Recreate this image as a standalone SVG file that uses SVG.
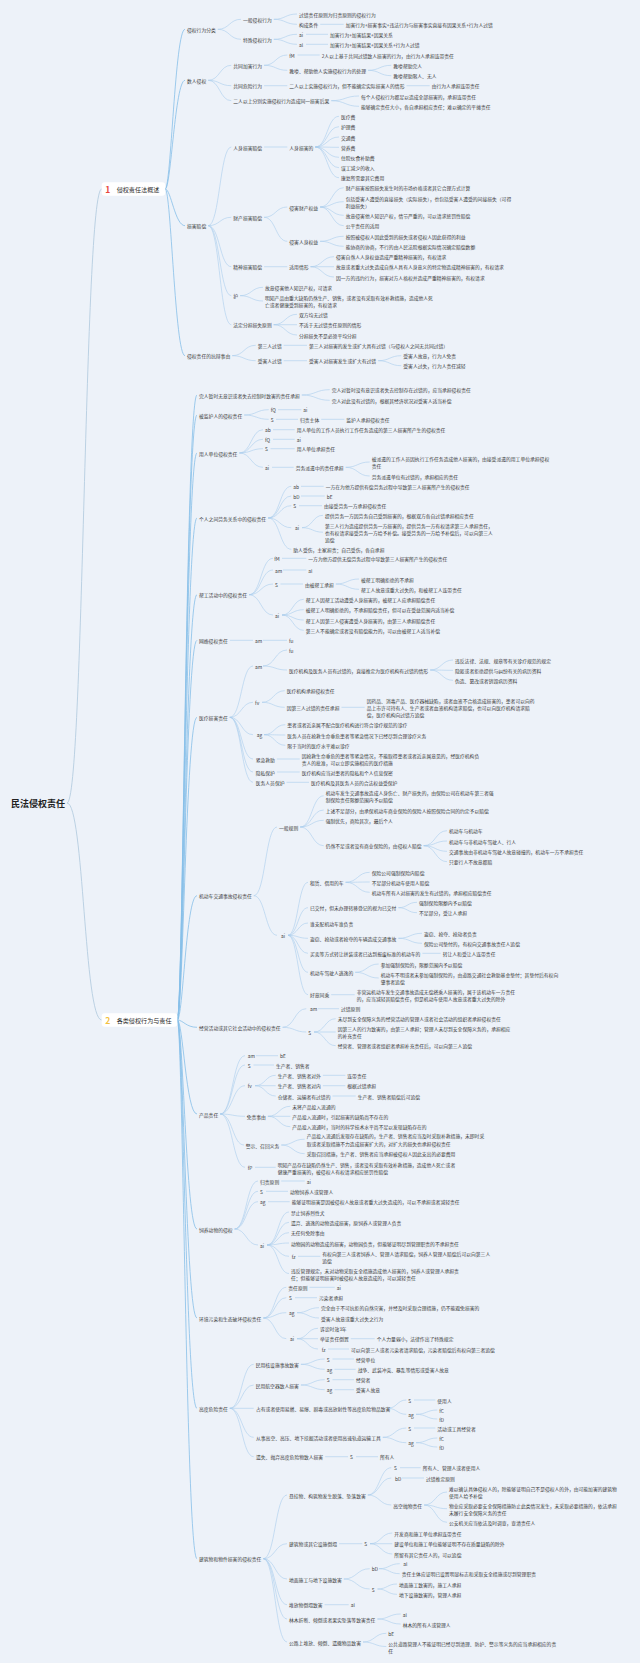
<svg xmlns="http://www.w3.org/2000/svg" width="640" height="1663" viewBox="0 0 640 1663">
<style>
text{font-family:"Noto Sans CJK SC","Noto Sans",sans-serif;font-size:4.8px;fill:#3a3a3a;dominant-baseline:central}
.r{font-size:9px;font-weight:bold;fill:#222}
.h{font-size:6.1px;fill:#2a2a2a}
.hn{font-size:8.5px;font-weight:bold}
.n1{fill:#e8473b}.n2{fill:#f3c03e}
.box{fill:#ffffff}
.c path{fill:none;stroke:#aacdec;stroke-width:.6}
.c .k1{stroke:#86bfe9;stroke-width:.8}
.c .k0{stroke:#b5cde0;stroke-width:.9}
</style>
<rect width="640" height="1663" fill="#edf2f9"/>
<g class="c" id="connectors">
<path class="k0" d="M67,803 C84,803 84,189 101.7,189"/>
<path class="k0" d="M67,803 C84,803 84,1020 101.7,1020"/>
<path class="k1" d="M165.2,189 C171,189 175,29.3 185,29.3"/>
<path class="k1" d="M165.2,189 C171,189 175,80.3 185,80.3"/>
<path class="k1" d="M165.2,189 C171,189 175,225.7 185,225.7"/>
<path class="k1" d="M165.2,189 C171,189 175,355.7 185,355.7"/>
<path d="M217.8,29.3 C229.4,29.3 229.4,19.3 241,19.3"/>
<path d="M217.8,29.3 C229.4,29.3 229.4,39.3 241,39.3"/>
<path d="M273.8,19.3 C285.4,19.3 285.4,14 297,14"/>
<path d="M273.8,19.3 C285.4,19.3 285.4,24.3 297,24.3"/>
<path d="M273.8,39.3 C285.4,39.3 285.4,34.3 297,34.3"/>
<path d="M273.8,39.3 C285.4,39.3 285.4,44.3 297,44.3"/>
<path d="M320.2,24.3 H343.7"/>
<path d="M306,34.3 H328"/>
<path d="M306,44.3 H328"/>
<path d="M208.2,80.3 C219.8,80.3 219.8,65.3 231.3,65.3"/>
<path d="M208.2,80.3 C219.8,80.3 219.8,85.7 231.3,85.7"/>
<path d="M208.2,80.3 C219.8,80.3 219.8,100.7 231.3,100.7"/>
<path d="M264.1,65.3 C275.7,65.3 275.7,55 287.3,55"/>
<path d="M264.1,65.3 C275.7,65.3 275.7,70.3 287.3,70.3"/>
<path d="M297.5,55 H319.7"/>
<path d="M368.1,70.3 C379.7,70.3 379.7,65.3 391.3,65.3"/>
<path d="M368.1,70.3 C379.7,70.3 379.7,75.7 391.3,75.7"/>
<path d="M264.1,85.7 H287.3"/>
<path d="M406.5,85.7 H429.7"/>
<path d="M331.3,100.7 C345.2,100.7 345.2,96 359,96"/>
<path d="M331.3,100.7 C345.2,100.7 345.2,106.3 359,106.3"/>
<path d="M208.2,225.7 C219.8,225.7 219.8,147 231.3,147"/>
<path d="M208.2,225.7 C219.8,225.7 219.8,217.3 231.3,217.3"/>
<path d="M208.2,225.7 C219.8,225.7 219.8,266.7 231.3,266.7"/>
<path d="M208.2,225.7 C219.8,225.7 219.8,295.7 231.3,295.7"/>
<path d="M208.2,225.7 C219.8,225.7 219.8,324.7 231.3,324.7"/>
<path d="M264.1,147 H287.3"/>
<path d="M315.3,147 C327.2,147 327.2,116.3 339,116.3"/>
<path d="M315.3,147 C327.2,147 327.2,126.7 339,126.7"/>
<path d="M315.3,147 C327.2,147 327.2,137 339,137"/>
<path d="M315.3,147 C327.2,147 327.2,147.3 339,147.3"/>
<path d="M315.3,147 C327.2,147 327.2,157.3 339,157.3"/>
<path d="M315.3,147 C327.2,147 327.2,167.7 339,167.7"/>
<path d="M315.3,147 C327.2,147 327.2,177.7 339,177.7"/>
<path d="M264.1,217.3 C275.7,217.3 275.7,207 287.3,207"/>
<path d="M264.1,217.3 C275.7,217.3 275.7,241.3 287.3,241.3"/>
<path d="M320.1,207 C331.9,207 331.9,187.7 343.7,187.7"/>
<path d="M320.1,207 C331.9,207 331.9,201.7 343.7,201.7"/>
<path d="M320.1,207 C331.9,207 331.9,215.3 343.7,215.3"/>
<path d="M320.1,207 C331.9,207 331.9,225.7 343.7,225.7"/>
<path d="M320.1,241.3 C331.9,241.3 331.9,236.3 343.7,236.3"/>
<path d="M320.1,241.3 C331.9,241.3 331.9,246.3 343.7,246.3"/>
<path d="M264.1,266.7 H287.3"/>
<path d="M310.5,266.7 C322.3,266.7 322.3,256.7 334,256.7"/>
<path d="M310.5,266.7 H334"/>
<path d="M310.5,266.7 C322.3,266.7 322.3,277 334,277"/>
<path d="M240.1,295.7 C251.6,295.7 251.6,287.3 263,287.3"/>
<path d="M240.1,295.7 C251.6,295.7 251.6,301 263,301"/>
<path d="M273.7,324.7 C285.4,324.7 285.4,314.3 297,314.3"/>
<path d="M273.7,324.7 H297"/>
<path d="M273.7,324.7 C285.4,324.7 285.4,335 297,335"/>
<path d="M232.2,355.7 C244,355.7 244,345.3 255.7,345.3"/>
<path d="M232.2,355.7 C244,355.7 244,360.7 255.7,360.7"/>
<path d="M283.7,345.3 H307"/>
<path d="M283.7,360.7 H307"/>
<path d="M378.2,360.7 C389.8,360.7 389.8,355.7 401.3,355.7"/>
<path d="M378.2,360.7 C389.8,360.7 389.8,365.7 401.3,365.7"/>
<path class="k1" d="M177.3,1020 C183,1020 186,395 197,395"/>
<path class="k1" d="M177.3,1020 C183,1020 186,415 197,415"/>
<path class="k1" d="M177.3,1020 C183,1020 186,453 197,453"/>
<path class="k1" d="M177.3,1020 C183,1020 186,518 197,518"/>
<path class="k1" d="M177.3,1020 C183,1020 186,594.7 197,594.7"/>
<path class="k1" d="M177.3,1020 C183,1020 186,640.3 197,640.3"/>
<path class="k1" d="M177.3,1020 C183,1020 186,717.3 197,717.3"/>
<path class="k1" d="M177.3,1020 C183,1020 186,895.7 197,895.7"/>
<path class="k1" d="M177.3,1020 C183,1020 186,1027.3 197,1027.3"/>
<path class="k1" d="M177.3,1020 C183,1020 186,1114 197,1114"/>
<path class="k1" d="M177.3,1020 C183,1020 186,1229 197,1229"/>
<path class="k1" d="M177.3,1020 C183,1020 186,1318 197,1318"/>
<path class="k1" d="M177.3,1020 C183,1020 186,1408.3 197,1408.3"/>
<path class="k1" d="M177.3,1020 C183,1020 186,1558.7 197,1558.7"/>
<path d="M301.8,395 C315.8,395 315.8,389.7 329.7,389.7"/>
<path d="M301.8,395 C315.8,395 315.8,400.3 329.7,400.3"/>
<path d="M244.2,415 C256.5,415 256.5,409.7 268.7,409.7"/>
<path d="M244.2,415 C256.5,415 256.5,419.3 268.7,419.3"/>
<path d="M278,409.7 H301.3"/>
<path d="M276,419.3 H298"/>
<path d="M321.2,419.3 H344.3"/>
<path d="M239.4,453 C251.2,453 251.2,429.7 263,429.7"/>
<path d="M239.4,453 C251.2,453 251.2,439.3 263,439.3"/>
<path d="M239.4,453 C251.2,453 251.2,448.7 263,448.7"/>
<path d="M239.4,453 C251.2,453 251.2,467.3 263,467.3"/>
<path d="M273,429.7 H294.7"/>
<path d="M273,439.3 H294.7"/>
<path d="M270.5,448.7 H294.7"/>
<path d="M272,467.3 H293.7"/>
<path d="M345.7,467.3 C357.7,467.3 357.7,462 369.7,462"/>
<path d="M345.7,467.3 C357.7,467.3 357.7,476 369.7,476"/>
<path d="M268.2,518 C279.8,518 279.8,486.3 291.3,486.3"/>
<path d="M268.2,518 C279.8,518 279.8,496 291.3,496"/>
<path d="M268.2,518 C279.8,518 279.8,505.7 291.3,505.7"/>
<path d="M268.2,518 C279.8,518 279.8,527.7 291.3,527.7"/>
<path d="M268.2,518 C279.8,518 279.8,549.3 291.3,549.3"/>
<path d="M301,486.3 H323.7"/>
<path d="M301,496 H324.7"/>
<path d="M299,505.7 H322"/>
<path d="M302,527.7 C312.5,527.7 312.5,515.3 323,515.3"/>
<path d="M302,527.7 C312.5,527.7 312.5,532.2 323,532.2"/>
<path d="M249,594.7 C261,594.7 261,558.3 273,558.3"/>
<path d="M249,594.7 C261,594.7 261,570 273,570"/>
<path d="M249,594.7 C261,594.7 261,584 273,584"/>
<path d="M249,594.7 C261,594.7 261,615 273,615"/>
<path d="M282,558.3 H306.3"/>
<path d="M283,570 H306.3"/>
<path d="M280.5,584 H303"/>
<path d="M335.8,584 C347.4,584 347.4,579 359,579"/>
<path d="M335.8,584 C347.4,584 347.4,589.3 359,589.3"/>
<path d="M282,615 C292.9,615 292.9,599.3 303.7,599.3"/>
<path d="M282,615 C292.9,615 292.9,609.7 303.7,609.7"/>
<path d="M282,615 C292.9,615 292.9,620 303.7,620"/>
<path d="M282,615 C292.9,615 292.9,630.3 303.7,630.3"/>
<path d="M229.8,640.3 H253"/>
<path d="M263,640.3 H287"/>
<path d="M229.8,717.3 C241.4,717.3 241.4,666 253,666"/>
<path d="M229.8,717.3 C241.4,717.3 241.4,702.3 253,702.3"/>
<path d="M229.8,717.3 C241.4,717.3 241.4,734.7 253,734.7"/>
<path d="M229.8,717.3 C241.4,717.3 241.4,759 253,759"/>
<path d="M229.8,717.3 C241.4,717.3 241.4,772 253,772"/>
<path d="M229.8,717.3 C241.4,717.3 241.4,782.3 253,782.3"/>
<path d="M263,666 C275,666 275,650 287,650"/>
<path d="M263,666 C275,666 275,670 287,670"/>
<path d="M430.2,670 C441.6,670 441.6,660 453,660"/>
<path d="M430.2,670 C441.6,670 441.6,670.3 453,670.3"/>
<path d="M430.2,670 C441.6,670 441.6,680.3 453,680.3"/>
<path d="M262,702.3 C273.4,702.3 273.4,690.7 284.7,690.7"/>
<path d="M262,702.3 C273.4,702.3 273.4,707.3 284.7,707.3"/>
<path d="M341.5,707.3 H364.7"/>
<path d="M264,734.7 C274.7,734.7 274.7,724.7 285.3,724.7"/>
<path d="M264,734.7 C274.7,734.7 274.7,735 285.3,735"/>
<path d="M264,734.7 C274.7,734.7 274.7,745.3 285.3,745.3"/>
<path d="M276.9,759 H299.7"/>
<path d="M276.9,772 H299.7"/>
<path d="M286.5,782.3 H309"/>
<path d="M253.8,895.7 C265.4,895.7 265.4,827 277,827"/>
<path d="M253.8,895.7 C265.4,895.7 265.4,935.3 277,935.3"/>
<path d="M300.2,827 C312,827 312,795.8 323.7,795.8"/>
<path d="M300.2,827 C312,827 312,810 323.7,810"/>
<path d="M300.2,827 C312,827 312,820.3 323.7,820.3"/>
<path d="M300.2,827 C312,827 312,845.7 323.7,845.7"/>
<path d="M423.7,845.7 C435.4,845.7 435.4,830.7 447,830.7"/>
<path d="M423.7,845.7 C435.4,845.7 435.4,841 447,841"/>
<path d="M423.7,845.7 C435.4,845.7 435.4,851.3 447,851.3"/>
<path d="M423.7,845.7 C435.4,845.7 435.4,861.7 447,861.7"/>
<path d="M288,935.3 C298,935.3 298,882.3 308,882.3"/>
<path d="M288,935.3 C298,935.3 298,907.7 308,907.7"/>
<path d="M288,935.3 C298,935.3 298,923 308,923"/>
<path d="M288,935.3 C298,935.3 298,938.3 308,938.3"/>
<path d="M288,935.3 C298,935.3 298,953.3 308,953.3"/>
<path d="M288,935.3 C298,935.3 298,972.3 308,972.3"/>
<path d="M288,935.3 C298,935.3 298,994.7 308,994.7"/>
<path d="M345.6,882.3 C357.7,882.3 357.7,872.3 369.7,872.3"/>
<path d="M345.6,882.3 C357.7,882.3 357.7,882 369.7,882"/>
<path d="M345.6,882.3 C357.7,882.3 357.7,892.3 369.7,892.3"/>
<path d="M398.4,907.7 C407.7,907.7 407.7,902.3 417,902.3"/>
<path d="M398.4,907.7 C407.7,907.7 407.7,912.7 417,912.7"/>
<path d="M398.4,938.3 C410.2,938.3 410.2,933.3 422,933.3"/>
<path d="M398.4,938.3 C410.2,938.3 410.2,943.3 422,943.3"/>
<path d="M422.4,953.3 H440.7"/>
<path d="M355.2,972.3 C367,972.3 367,964 378.7,964"/>
<path d="M355.2,972.3 C367,972.3 367,978 378.7,978"/>
<path d="M331.2,994.7 H354.7"/>
<path d="M282.6,1027.3 C294.5,1027.3 294.5,1008.7 306.3,1008.7"/>
<path d="M282.6,1027.3 C294.5,1027.3 294.5,1032 306.3,1032"/>
<path d="M318,1008.7 H339"/>
<path d="M314,1032 C324.9,1032 324.9,1018.7 335.7,1018.7"/>
<path d="M314,1032 H335.7"/>
<path d="M314,1032 C324.9,1032 324.9,1045.7 335.7,1045.7"/>
<path d="M220.2,1114 C232.6,1114 232.6,1055.7 245,1055.7"/>
<path d="M220.2,1114 C232.6,1114 232.6,1065 245,1065"/>
<path d="M220.2,1114 C232.6,1114 232.6,1085.7 245,1085.7"/>
<path d="M220.2,1114 C232.6,1114 232.6,1116.3 245,1116.3"/>
<path d="M220.2,1114 C232.6,1114 232.6,1145 244,1145"/>
<path d="M220.2,1114 C232.6,1114 232.6,1167.3 245,1167.3"/>
<path d="M256,1055.7 H278"/>
<path d="M253.5,1065 H274"/>
<path d="M255,1085.7 C265.4,1085.7 265.4,1075.3 275.7,1075.3"/>
<path d="M255,1085.7 H275.7"/>
<path d="M255,1085.7 C265.4,1085.7 265.4,1096 275.7,1096"/>
<path d="M322.9,1075.3 H345.3"/>
<path d="M322.9,1085.7 H345.3"/>
<path d="M332.5,1096 H355.7"/>
<path d="M267.9,1116.3 C279.1,1116.3 279.1,1106.3 290.3,1106.3"/>
<path d="M267.9,1116.3 H290.3"/>
<path d="M267.9,1116.3 C279.1,1116.3 279.1,1126.7 290.3,1126.7"/>
<path d="M281.3,1145 C293,1145 293,1139.2 304.7,1139.2"/>
<path d="M281.3,1145 C293,1145 293,1153.7 304.7,1153.7"/>
<path d="M255,1167.3 H275.7"/>
<path d="M234.6,1229 C246.3,1229 246.3,1181 258,1181"/>
<path d="M234.6,1229 C246.3,1229 246.3,1191.3 258,1191.3"/>
<path d="M234.6,1229 C246.3,1229 246.3,1201.7 258,1201.7"/>
<path d="M234.6,1229 C246.3,1229 246.3,1245 258,1245"/>
<path d="M281.2,1181 H304.7"/>
<path d="M266,1191.3 H288"/>
<path d="M268,1201.7 H289.7"/>
<path d="M267,1245 C278,1245 278,1212 289,1212"/>
<path d="M267,1245 C278,1245 278,1222.3 289,1222.3"/>
<path d="M267,1245 C278,1245 278,1232.7 289,1232.7"/>
<path d="M267,1245 C278,1245 278,1243 289,1243"/>
<path d="M267,1245 C278,1245 278,1256.3 289,1256.3"/>
<path d="M267,1245 C278,1245 278,1273.5 289,1273.5"/>
<path d="M298,1256.3 H320.3"/>
<path d="M263.4,1318 C274.9,1318 274.9,1287.3 286.3,1287.3"/>
<path d="M263.4,1318 C274.9,1318 274.9,1297.7 286.3,1297.7"/>
<path d="M263.4,1318 C274.9,1318 274.9,1312.7 286.3,1312.7"/>
<path d="M263.4,1318 C274.9,1318 274.9,1338.7 286.3,1338.7"/>
<path d="M309.5,1287.3 H334.7"/>
<path d="M295,1297.7 H317"/>
<path d="M297,1312.7 C308,1312.7 308,1307.7 319,1307.7"/>
<path d="M297,1312.7 C308,1312.7 308,1318 319,1318"/>
<path d="M297,1338.7 C307.5,1338.7 307.5,1328.3 318,1328.3"/>
<path d="M297,1338.7 H318"/>
<path d="M297,1338.7 C307.5,1338.7 307.5,1349 318,1349"/>
<path d="M350.8,1338.7 H374.7"/>
<path d="M328,1349 H349"/>
<path d="M229.8,1408.3 C241.8,1408.3 241.8,1364.3 253.7,1364.3"/>
<path d="M229.8,1408.3 C241.8,1408.3 241.8,1385 253.7,1385"/>
<path d="M229.8,1408.3 H253.7"/>
<path d="M229.8,1408.3 C241.8,1408.3 241.8,1437.3 253.7,1437.3"/>
<path d="M229.8,1408.3 C241.8,1408.3 241.8,1456.7 253.7,1456.7"/>
<path d="M300.9,1364.3 C312.8,1364.3 312.8,1359 324.7,1359"/>
<path d="M300.9,1364.3 C312.8,1364.3 312.8,1369.3 324.7,1369.3"/>
<path d="M332.5,1359 H354"/>
<path d="M334.5,1369.3 H355.7"/>
<path d="M300.9,1385 C312.8,1385 312.8,1379.7 324.7,1379.7"/>
<path d="M300.9,1385 C312.8,1385 312.8,1389.7 324.7,1389.7"/>
<path d="M332.5,1379.7 H354"/>
<path d="M334.5,1389.7 H354"/>
<path d="M387.6,1408.3 C397,1408.3 397,1400 406.3,1400"/>
<path d="M387.6,1408.3 C397,1408.3 397,1414.3 406.3,1414.3"/>
<path d="M414,1400 H435.3"/>
<path d="M416,1414.3 C426.7,1414.3 426.7,1410 437.3,1410"/>
<path d="M416,1414.3 C426.7,1414.3 426.7,1419 437.3,1419"/>
<path d="M382.8,1437.3 C394.6,1437.3 394.6,1428 406.3,1428"/>
<path d="M382.8,1437.3 C394.6,1437.3 394.6,1442.7 406.3,1442.7"/>
<path d="M414,1428 H435.3"/>
<path d="M416,1442.7 C426.7,1442.7 426.7,1438 437.3,1438"/>
<path d="M416,1442.7 C426.7,1442.7 426.7,1447 437.3,1447"/>
<path d="M325.2,1456.7 H348"/>
<path d="M356,1456.7 H378"/>
<path d="M263.4,1558.7 C275.2,1558.7 275.2,1495 287,1495"/>
<path d="M263.4,1558.7 C275.2,1558.7 275.2,1543.7 287,1543.7"/>
<path d="M263.4,1558.7 C275.2,1558.7 275.2,1579 287,1579"/>
<path d="M263.4,1558.7 C275.2,1558.7 275.2,1604.7 287,1604.7"/>
<path d="M263.4,1558.7 C275.2,1558.7 275.2,1619 287,1619"/>
<path d="M263.4,1558.7 C275.2,1558.7 275.2,1642 287,1642"/>
<path d="M367.8,1495 C379.6,1495 379.6,1467.7 391.3,1467.7"/>
<path d="M367.8,1495 C379.6,1495 379.6,1478 391.3,1478"/>
<path d="M367.8,1495 C379.6,1495 379.6,1505 391.3,1505"/>
<path d="M400,1467.7 H420.7"/>
<path d="M402,1478 H424"/>
<path d="M424.1,1505 C435.6,1505 435.6,1492 447,1492"/>
<path d="M424.1,1505 C435.6,1505 435.6,1508.7 447,1508.7"/>
<path d="M424.1,1505 C435.6,1505 435.6,1522.3 447,1522.3"/>
<path d="M339,1543.7 H362.3"/>
<path d="M370,1543.7 C381.2,1543.7 381.2,1533 392.3,1533"/>
<path d="M370,1543.7 H392.3"/>
<path d="M370,1543.7 C381.2,1543.7 381.2,1554 392.3,1554"/>
<path d="M343.8,1579 C356.8,1579 356.8,1568.7 369.7,1568.7"/>
<path d="M343.8,1579 C356.8,1579 356.8,1589 369.7,1589"/>
<path d="M379,1568.7 C389.4,1568.7 389.4,1563.7 399.7,1563.7"/>
<path d="M379,1568.7 C389.4,1568.7 389.4,1573.7 399.7,1573.7"/>
<path d="M377.5,1589 C387.3,1589 387.3,1584 397,1584"/>
<path d="M377.5,1589 C387.3,1589 387.3,1594.3 397,1594.3"/>
<path d="M324.6,1604.7 H348.7"/>
<path d="M377.4,1619 C389,1619 389,1614 400.7,1614"/>
<path d="M377.4,1619 C389,1619 389,1624 400.7,1624"/>
<path d="M363,1642 C374.7,1642 374.7,1633.3 386.3,1633.3"/>
<path d="M363,1642 C374.7,1642 374.7,1646.5 386.3,1646.5"/>
</g>
<g id="root"><text class="r" x="11" y="803">民法侵权责任</text></g>
<g id="s1"><rect class="box" x="101.7" y="182.3" width="63.5" height="13.4" rx="3"/><text class="h" x="105.3" y="189"><tspan class="hn n1">1</tspan><tspan x="116.7">侵权责任法概述</tspan></text></g>
<g id="s2"><rect class="box" x="101.7" y="1013.3" width="75.6" height="13.4" rx="3"/><text class="h" x="105.3" y="1020"><tspan class="hn n2">2</tspan><tspan x="116.7">各类侵权行为与责任</tspan></text></g>
<g id="n-a"><text x="187" y="29.3">侵权行为分类</text></g>
<g id="n-a1"><text x="243" y="19.3">一般侵权行为</text></g>
<g id="n-a1a"><text x="299" y="14">过错责任原则为归责原则的侵权行为</text></g>
<g id="n-a1b"><text x="299" y="24.3">构成条件</text></g>
<g id="n-a1b1"><text x="345.7" y="24.3">加害行为+损害事实+违法行为与损害事实直接有因果关系+行为人过错</text></g>
<g id="n-a2"><text x="243" y="39.3">特殊侵权行为</text></g>
<g id="n-a2a"><text x="299" y="34.3">ai</text></g>
<g id="n-a2a1"><text x="330" y="34.3">加害行为+加害结果+因果关系</text></g>
<g id="n-a2b"><text x="299" y="44.3">al</text></g>
<g id="n-a2b1"><text x="330" y="44.3">加害行为+加害结果+因果关系+行为人过错</text></g>
<g id="n-b"><text x="187" y="80.3">数人侵权</text></g>
<g id="n-b1"><text x="233.3" y="65.3">共同加害行为</text></g>
<g id="n-b1a"><text x="289.3" y="55">fM</text></g>
<g id="n-b1a1"><text x="321.7" y="55">2人以上基于共同过错致人损害的行为，由行为人承担连带责任</text></g>
<g id="n-b1b"><text x="289.3" y="70.3">教唆、帮助他人实施侵权行为的处理</text></g>
<g id="n-b1b1"><text x="393.3" y="65.3">教唆帮助完人</text></g>
<g id="n-b1b2"><text x="393.3" y="75.7">教唆帮助限人、无人</text></g>
<g id="n-b2"><text x="233.3" y="85.7">共同危险行为</text></g>
<g id="n-b2a"><text x="289.3" y="85.7">二人以上实施侵权行为，但不能确定实际损害人的情形</text></g>
<g id="n-b2a1"><text x="431.7" y="85.7">由行为人承担连带责任</text></g>
<g id="n-b3"><text x="233.3" y="100.7">二人以上分别实施侵权行为造成同一损害后果</text></g>
<g id="n-b3a"><text x="361" y="96">每个人侵权行为都足以造成全部损害的，承担连带责任</text></g>
<g id="n-b3b"><text x="361" y="106.3">能够确定责任大小，各自承担相应责任；难以确定的平摊责任</text></g>
<g id="n-c"><text x="187" y="225.7">损害赔偿</text></g>
<g id="n-c1"><text x="233.3" y="147">人身损害赔偿</text></g>
<g id="n-c1a"><text x="289.3" y="147">人身损害的</text></g>
<g id="n-c1a1"><text x="341" y="116.3">医疗费</text></g>
<g id="n-c1a2"><text x="341" y="126.7">护理费</text></g>
<g id="n-c1a3"><text x="341" y="137">交通费</text></g>
<g id="n-c1a4"><text x="341" y="147.3">营养费</text></g>
<g id="n-c1a5"><text x="341" y="157.3">住院伙食补助费</text></g>
<g id="n-c1a6"><text x="341" y="167.7">误工减少的收入</text></g>
<g id="n-c1a7"><text x="341" y="177.7">康复所需要其它费用</text></g>
<g id="n-c2"><text x="233.3" y="217.3">财产损害赔偿</text></g>
<g id="n-c2a"><text x="289.3" y="207">侵害财产权益</text></g>
<g id="n-c2a1"><text x="345.7" y="187.7">财产损害按照损失发生时的市场价格或者其它合理方式计算</text></g>
<g id="n-c2a2"><text x="345.7" y="198.3">包括受害人遭受的直接损失（实际损失），也包括受害人遭受的间接损失（可得<tspan x="345.7" y="205">利益损失）</tspan></text></g>
<g id="n-c2a3"><text x="345.7" y="215.3">故意侵害他人知识产权，情节严重的，可以请求惩罚性赔偿</text></g>
<g id="n-c2a4"><text x="345.7" y="225.7">公平责任的适用</text></g>
<g id="n-c2b"><text x="289.3" y="241.3">侵害人身权益</text></g>
<g id="n-c2b1"><text x="345.7" y="236.3">按照被侵权人因此受到的损失或者侵权人因此获得的利益</text></g>
<g id="n-c2b2"><text x="345.7" y="246.3">能协商的协商，不行的由人民法院根据实际情况确定赔偿数额</text></g>
<g id="n-c3"><text x="233.3" y="266.7">精神损害赔偿</text></g>
<g id="n-c3a"><text x="289.3" y="266.7">适用情形</text></g>
<g id="n-c3a1"><text x="336" y="256.7">侵害自然人人身权益造成严重精神损害的，有权请求</text></g>
<g id="n-c3a2"><text x="336" y="266.7">故意或者重大过失造成自然人具有人身意义的特定物造成精神损害的，有权请求</text></g>
<g id="n-c3a3"><text x="336" y="277">因一方的违约行为，损害对方人格权并造成严重精神损害的，有权请求</text></g>
<g id="n-c4"><text x="233.3" y="295.7">护</text></g>
<g id="n-c4a"><text x="265" y="287.3">故意侵害他人知识产权，可请求</text></g>
<g id="n-c4b"><text x="265" y="297.7">明知产品由重大缺陷仍然生产、销售，或者没有采取有效补救措施，造成他人死<tspan x="265" y="304.3">亡或者健康受到损害的，有权请求</tspan></text></g>
<g id="n-c5"><text x="233.3" y="324.7">法定分担损失原则</text></g>
<g id="n-c5a"><text x="299" y="314.3">双方均无过错</text></g>
<g id="n-c5b"><text x="299" y="324.7">不适于无过错责任原则的情形</text></g>
<g id="n-c5c"><text x="299" y="335">分担损失不是必须平均分担</text></g>
<g id="n-d"><text x="187" y="355.7">侵权责任的抗辩事由</text></g>
<g id="n-d1"><text x="257.7" y="345.3">第三人过错</text></g>
<g id="n-d1a"><text x="309" y="345.3">第三人对损害的发生或扩大具有过错（与侵权人之间无共同过错）</text></g>
<g id="n-d2"><text x="257.7" y="360.7">受害人过错</text></g>
<g id="n-d2a"><text x="309" y="360.7">受害人对损害发生或扩大有过错</text></g>
<g id="n-d2a1"><text x="403.3" y="355.7">受害人故意，行为人免责</text></g>
<g id="n-d2a2"><text x="403.3" y="365.7">受害人过失，行为人责任减轻</text></g>
<g id="n-e1"><text x="199" y="395">完人暂时无意识或者失去控制时致害的责任承担</text></g>
<g id="n-e1a"><text x="331.7" y="389.7">完人对暂时没有意识或者失去控制存在过错的，应当承担侵权责任</text></g>
<g id="n-e1b"><text x="331.7" y="400.3">完人对此没有过错的，根据其经济状况对受害人适当补偿</text></g>
<g id="n-e2"><text x="199" y="415">被监护人的侵权责任</text></g>
<g id="n-e2a"><text x="270.7" y="409.7">fQ</text></g>
<g id="n-e2a1"><text x="303.3" y="409.7">ai</text></g>
<g id="n-e2b"><text x="270.7" y="419.3">S</text></g>
<g id="n-e2b1"><text x="300" y="419.3">归责主体</text></g>
<g id="n-e2b2"><text x="346.3" y="419.3">监护人承担侵权责任</text></g>
<g id="n-e3"><text x="199" y="453">用人单位侵权责任</text></g>
<g id="n-e3a"><text x="265" y="429.7">ab</text></g>
<g id="n-e3a1"><text x="296.7" y="429.7">用人单位的工作人员执行工作任务造成的第三人损害所产生的侵权责任</text></g>
<g id="n-e3b"><text x="265" y="439.3">fQ</text></g>
<g id="n-e3b1"><text x="296.7" y="439.3">ai</text></g>
<g id="n-e3c"><text x="265" y="448.7">S</text></g>
<g id="n-e3c1"><text x="296.7" y="448.7">用人单位承担责任</text></g>
<g id="n-e3d"><text x="265" y="467.3">ai</text></g>
<g id="n-e3d1"><text x="295.7" y="467.3">劳务派遣中的责任承担</text></g>
<g id="n-e3d1a"><text x="371.7" y="458.7">被派遣的工作人员因执行工作任务造成他人损害的，由接受派遣的用工单位承担侵权<tspan x="371.7" y="465.3">责任</tspan></text></g>
<g id="n-e3d1b"><text x="371.7" y="476">劳务派遣单位有过错的，承担相应的责任</text></g>
<g id="n-e4"><text x="199" y="518">个人之间劳务关系中的侵权责任</text></g>
<g id="n-e4a"><text x="293.3" y="486.3">ab</text></g>
<g id="n-e4a1"><text x="325.7" y="486.3">一方在为他方提供有偿劳务过程中导致第三人损害所产生的侵权责任</text></g>
<g id="n-e4b"><text x="293.3" y="496">bD</text></g>
<g id="n-e4b1"><text x="326.7" y="496">bE</text></g>
<g id="n-e4c"><text x="293.3" y="505.7">S</text></g>
<g id="n-e4c1"><text x="324" y="505.7">由接受劳务一方承担侵权责任</text></g>
<g id="n-e4d"><text x="295" y="527.7">ai</text></g>
<g id="n-e4d1"><text x="325" y="515.3">提供劳务一方因劳务自己受到损害的，根据双方各自过错承担相应责任</text></g>
<g id="n-e4d2"><text x="325" y="525.7">第三人行为造成提供劳务一方损害的，提供劳务一方有权请求第三人承担责任，<tspan x="325" y="532">也有权请求接受劳务一方给予补偿。接受劳务的一方给予补偿后，可以向第三人</tspan><tspan x="325" y="538.7">追偿</tspan></text></g>
<g id="n-e4e"><text x="293.3" y="549.3">助人受伤，主家担责；自己受伤，各自承担</text></g>
<g id="n-e5"><text x="199" y="594.7">帮工活动中的侵权责任</text></g>
<g id="n-e5a"><text x="274.3" y="558.3">fM</text></g>
<g id="n-e5a1"><text x="308.3" y="558.3">一方为他方提供无偿劳务过程中导致第三人损害所产生的侵权责任</text></g>
<g id="n-e5b"><text x="275" y="570">am</text></g>
<g id="n-e5b1"><text x="308.3" y="570">al</text></g>
<g id="n-e5c"><text x="275" y="584">S</text></g>
<g id="n-e5c1"><text x="305" y="584">由被帮工承担</text></g>
<g id="n-e5c1a"><text x="361" y="579">被帮工明确拒绝的不承担</text></g>
<g id="n-e5c1b"><text x="361" y="589.3">帮工人故意或重大过失的，和被帮工人连带责任</text></g>
<g id="n-e5d"><text x="275" y="615">ai</text></g>
<g id="n-e5d1"><text x="305.7" y="599.3">帮工人因帮工活动遭受人身损害的，被帮工人应承担赔偿责任</text></g>
<g id="n-e5d2"><text x="305.7" y="609.7">被帮工人明确拒绝的，不承担赔偿责任，但可以在受益范围内适当补偿</text></g>
<g id="n-e5d3"><text x="305.7" y="620">帮工人因第三人侵害遭受人身损害的，由第三人承担赔偿责任</text></g>
<g id="n-e5d4"><text x="305.7" y="630.3">第三人不能确定或者没有赔偿能力的，可以由被帮工人适当补偿</text></g>
<g id="n-e6"><text x="199" y="640.3">网络侵权责任</text></g>
<g id="n-e6a"><text x="255" y="640.3">am</text></g>
<g id="n-e6a1"><text x="289" y="640.3">fu</text></g>
<g id="n-e7"><text x="199" y="717.3">医疗损害责任</text></g>
<g id="n-e7a"><text x="255" y="666">am</text></g>
<g id="n-e7a1"><text x="289" y="650">fu</text></g>
<g id="n-e7a2"><text x="289" y="670">医疗机构及医务人员有过错的，直接推定为医疗机构有过错的情形</text></g>
<g id="n-e7a2a"><text x="455" y="660">违反法律、法规、规章等有关诊疗规范的规定</text></g>
<g id="n-e7a2b"><text x="455" y="670.3">隐匿或者拒绝提供与纠纷有关的病历资料</text></g>
<g id="n-e7a2c"><text x="455" y="680.3">伪造、篡改或者销毁病历资料</text></g>
<g id="n-e7b"><text x="255" y="702.3">fv</text></g>
<g id="n-e7b1"><text x="286.7" y="690.7">医疗机构承担侵权责任</text></g>
<g id="n-e7b2"><text x="286.7" y="707.3">因第三人过错的责任承担</text></g>
<g id="n-e7b2a"><text x="366.7" y="700.7">因药品、消毒产品、医疗器械缺陷，或者血液不合格造成损害的，患者可以向药<tspan x="366.7" y="707.3">品上市许可持有人、生产者或者血液机构请求赔偿，也可以向医疗机构请求赔</tspan><tspan x="366.7" y="714">偿，医疗机构向过错方追偿</tspan></text></g>
<g id="n-e7c"><text x="256.7" y="734.7">ag</text></g>
<g id="n-e7c1"><text x="287.3" y="724.7">患者或者近亲属不配合医疗机构进行符合诊疗规范的诊疗</text></g>
<g id="n-e7c2"><text x="287.3" y="735">医务人员在抢救生命垂危患者等紧急情况下已经尽到合理诊疗义务</text></g>
<g id="n-e7c3"><text x="287.3" y="745.3">限于当时的医疗水平难以诊疗</text></g>
<g id="n-e7d"><text x="255.7" y="759">紧急救助</text></g>
<g id="n-e7d1"><text x="301.7" y="755.7">因抢救生命垂危的患者等紧急情况，不能取得患者或者近亲属意见的，经医疗机构负<tspan x="301.7" y="762.3">责人的批准，可以立即实施相应的医疗措施</tspan></text></g>
<g id="n-e7e"><text x="255.7" y="772">隐私保护</text></g>
<g id="n-e7e1"><text x="301.7" y="772">医疗机构应当对患者的隐私和个人信息保密</text></g>
<g id="n-e7f"><text x="255.7" y="782.3">医务人员保护</text></g>
<g id="n-e7f1"><text x="311" y="782.3">医疗机构及其医务人员的合法权益受保护</text></g>
<g id="n-e8"><text x="199" y="895.7">机动车交通事故侵权责任</text></g>
<g id="n-e8a"><text x="279" y="827">一般规则</text></g>
<g id="n-e8a1"><text x="325.7" y="792.3">机动车发生交通事故造成人身伤亡、财产损失的，由保险公司在机动车第三者强<tspan x="325.7" y="799.3">制保险责任限额范围内予以赔偿</tspan></text></g>
<g id="n-e8a2"><text x="325.7" y="810">上述不足部分，由承保机动车商业保险的保险人按照保险合同的约定予以赔偿</text></g>
<g id="n-e8a3"><text x="325.7" y="820.3">强制优先，商险其次，最后个人</text></g>
<g id="n-e8a4"><text x="325.7" y="845.7">仍然不足或者没有商业保险的，由侵权人赔偿</text></g>
<g id="n-e8a4a"><text x="449" y="830.7">机动车与机动车</text></g>
<g id="n-e8a4b"><text x="449" y="841">机动车与非机动车驾驶人、行人</text></g>
<g id="n-e8a4c"><text x="449" y="851.3">交通事故由非机动车驾驶人故意碰撞的，机动车一方不承担责任</text></g>
<g id="n-e8a4d"><text x="449" y="861.7">只要行人不故意都赔</text></g>
<g id="n-e8b"><text x="281" y="935.3">ai</text></g>
<g id="n-e8b1"><text x="310" y="882.3">租赁、借用的车</text></g>
<g id="n-e8b1a"><text x="371.7" y="872.3">保险公司强制保险内赔偿</text></g>
<g id="n-e8b1b"><text x="371.7" y="882">不足部分机动车使用人赔偿</text></g>
<g id="n-e8b1c"><text x="371.7" y="892.3">机动车所有人对损害的发生有过错的，承担相应赔偿责任</text></g>
<g id="n-e8b2"><text x="310" y="907.7">已交付，但未办理转移登记的视为已交付</text></g>
<g id="n-e8b2a"><text x="419" y="902.3">强制保险限额内予以赔偿</text></g>
<g id="n-e8b2b"><text x="419" y="912.7">不足部分，受让人承担</text></g>
<g id="n-e8b3"><text x="310" y="923">谁支配机动车谁负责</text></g>
<g id="n-e8b4"><text x="310" y="938.3">盗窃、抢劫或者抢夺的车辆造成交通事故</text></g>
<g id="n-e8b4a"><text x="424" y="933.3">盗窃、抢夺、抢劫者负责</text></g>
<g id="n-e8b4b"><text x="424" y="943.3">保险公司垫付的，有权向交通事故责任人追偿</text></g>
<g id="n-e8b5"><text x="310" y="953.3">买卖等方式转让拼装或者已达到报废标准的机动车的</text></g>
<g id="n-e8b5a"><text x="442.7" y="953.3">转让人和受让人连带责任</text></g>
<g id="n-e8b6"><text x="310" y="972.3">机动车驾驶人逃逸的</text></g>
<g id="n-e8b6a"><text x="380.7" y="964">参加强制保险的，限额范围内予以赔偿</text></g>
<g id="n-e8b6b"><text x="380.7" y="974.7">机动车不明或者未参加强制保险的，由道路交通社会救助基金垫付；其垫付后有权向<tspan x="380.7" y="981.3">肇事者追偿</tspan></text></g>
<g id="n-e8b7"><text x="310" y="994.7">好意同乘</text></g>
<g id="n-e8b7a"><text x="356.7" y="991">非营运机动车发生交通事故造成无偿搭乘人损害的，属于该机动车一方责任<tspan x="356.7" y="998.3">的，应当减轻其赔偿责任，但是机动车使用人故意或者重大过失的除外</tspan></text></g>
<g id="n-e9"><text x="199" y="1027.3">经营活动或其它社会活动中的侵权责任</text></g>
<g id="n-e9a"><text x="310" y="1008.7">am</text></g>
<g id="n-e9a1"><text x="341" y="1008.7">过错原则</text></g>
<g id="n-e9b"><text x="308.3" y="1032">S</text></g>
<g id="n-e9b1"><text x="337.7" y="1018.7">未尽到安全保障义务的经营活动的管理人或者社会活动的组织者承担侵权责任</text></g>
<g id="n-e9b2"><text x="337.7" y="1028.7">因第三人的行为致害的，由第三人承担；管理人未尽到安全保障义务的，承担相应<tspan x="337.7" y="1035.3">的补充责任</tspan></text></g>
<g id="n-e9b3"><text x="337.7" y="1045.7">经营者、管理者或者组织者承担补充责任后，可以向第三人追偿</text></g>
<g id="n-e10"><text x="199" y="1114">产品责任</text></g>
<g id="n-e10a"><text x="247.7" y="1055.7">am</text></g>
<g id="n-e10a1"><text x="280" y="1055.7">bE</text></g>
<g id="n-e10b"><text x="247.7" y="1065">S</text></g>
<g id="n-e10b1"><text x="276" y="1065">生产者、销售者</text></g>
<g id="n-e10c"><text x="247.7" y="1085.7">fv</text></g>
<g id="n-e10c1"><text x="277.7" y="1075.3">生产者、销售者对外</text></g>
<g id="n-e10c1a"><text x="347.3" y="1075.3">连带责任</text></g>
<g id="n-e10c2"><text x="277.7" y="1085.7">生产者、销售者对内</text></g>
<g id="n-e10c2a"><text x="347.3" y="1085.7">根据过错承担</text></g>
<g id="n-e10c3"><text x="277.7" y="1096">仓储者、运输者有过错的</text></g>
<g id="n-e10c3a"><text x="357.7" y="1096">生产者、销售者赔偿后可追偿</text></g>
<g id="n-e10d"><text x="246.7" y="1116.3">免责事由</text></g>
<g id="n-e10d1"><text x="292.3" y="1106.3">未将产品投入流通的</text></g>
<g id="n-e10d2"><text x="292.3" y="1116.3">产品投入流通时，引起损害的缺陷尚不存在的</text></g>
<g id="n-e10d3"><text x="292.3" y="1126.7">产品投入流通时，当时的科学技术水平尚不足以发现缺陷存在的</text></g>
<g id="n-e10e"><text x="245.7" y="1145">警示、召回义务</text></g>
<g id="n-e10e1"><text x="306.7" y="1135.7">产品投入流通后发现存在缺陷的，生产者、销售者应当及时采取补救措施，未即时采<tspan x="306.7" y="1142.7">取或者采取措施不力造成损害扩大的，对扩大的损失也承担侵权责任</tspan></text></g>
<g id="n-e10e2"><text x="306.7" y="1153.7">采取召回措施，生产者、销售者应当承担被侵权人因此支出的必要费用</text></g>
<g id="n-e10f"><text x="247.7" y="1167.3">fP</text></g>
<g id="n-e10f1"><text x="277.7" y="1164">明知产品存在缺陷仍然生产、销售，或者没有采取有效补救措施，造成他人死亡或者<tspan x="277.7" y="1171">健康严重损害的，被侵权人有权请求相应惩罚性赔偿</tspan></text></g>
<g id="n-e11"><text x="199" y="1229">饲养动物的侵权</text></g>
<g id="n-e11a"><text x="260" y="1181">归责原则</text></g>
<g id="n-e11a1"><text x="306.7" y="1181">ai</text></g>
<g id="n-e11b"><text x="260" y="1191.3">S</text></g>
<g id="n-e11b1"><text x="290" y="1191.3">动物饲养人或管理人</text></g>
<g id="n-e11c"><text x="260" y="1201.7">ag</text></g>
<g id="n-e11c1"><text x="291.7" y="1201.7">能够证明损害是因被侵权人故意或者重大过失造成的，可以不承担或者减轻责任</text></g>
<g id="n-e11d"><text x="260" y="1245">ai</text></g>
<g id="n-e11d1"><text x="291" y="1212">禁止饲养烈性犬</text></g>
<g id="n-e11d2"><text x="291" y="1222.3">遗弃、逃逸的动物造成损害，原饲养人或管理人负责</text></g>
<g id="n-e11d3"><text x="291" y="1232.7">无任何免除事由</text></g>
<g id="n-e11d4"><text x="291" y="1243">动物园的动物造成的损害，动物园负责，但能够证明尽到管理职责的不承担责任</text></g>
<g id="n-e11d5"><text x="291.7" y="1256.3">fz</text></g>
<g id="n-e11d5a"><text x="322.3" y="1253">有权向第三人或者饲养人、管理人请求赔偿，饲养人管理人赔偿后可以向第三人<tspan x="322.3" y="1259.7">追偿</tspan></text></g>
<g id="n-e11d6"><text x="291" y="1270">违反管理规定，未对动物采取安全措施造成他人损害的，饲养人或管理人承担责<tspan x="291" y="1277">任；但能够证明损害时被侵权人故意造成的，可以减轻责任</tspan></text></g>
<g id="n-e12"><text x="199" y="1318">环境污染和生态破坏侵权责任</text></g>
<g id="n-e12a"><text x="288.3" y="1287.3">责任原则</text></g>
<g id="n-e12a1"><text x="336.7" y="1287.3">ai</text></g>
<g id="n-e12b"><text x="289" y="1297.7">S</text></g>
<g id="n-e12b1"><text x="319" y="1297.7">污染者承担</text></g>
<g id="n-e12c"><text x="289" y="1312.7">ag</text></g>
<g id="n-e12c1"><text x="321" y="1307.7">完全由于不可抗拒的自然灾害，并经及时采取合理措施，仍不能避免损害的</text></g>
<g id="n-e12c2"><text x="321" y="1318">受害人故意或重大过失之行为</text></g>
<g id="n-e12d"><text x="290" y="1338.7">ai</text></g>
<g id="n-e12d1"><text x="320" y="1328.3">诉讼时效3年</text></g>
<g id="n-e12d2"><text x="320" y="1338.7">举证责任倒置</text></g>
<g id="n-e12d2a"><text x="376.7" y="1338.7">个人力量弱小，法律作出了特殊规定</text></g>
<g id="n-e12d3"><text x="321.7" y="1349">fz</text></g>
<g id="n-e12d3a"><text x="351" y="1349">可以向第三人或者污染者请求赔偿，污染者赔偿后有权向第三者追偿</text></g>
<g id="n-e13"><text x="199" y="1408.3">高度危险责任</text></g>
<g id="n-e13a"><text x="255.7" y="1364.3">民用核设施事故致害</text></g>
<g id="n-e13a1"><text x="326.7" y="1359">S</text></g>
<g id="n-e13a1a"><text x="356" y="1359">经营单位</text></g>
<g id="n-e13a2"><text x="326.7" y="1369.3">ag</text></g>
<g id="n-e13a2a"><text x="357.7" y="1369.3">战争、武装冲突、暴乱等情形或受害人故意</text></g>
<g id="n-e13b"><text x="255.7" y="1385">民用航空器致人损害</text></g>
<g id="n-e13b1"><text x="326.7" y="1379.7">S</text></g>
<g id="n-e13b1a"><text x="356" y="1379.7">经营者</text></g>
<g id="n-e13b2"><text x="326.7" y="1389.7">ag</text></g>
<g id="n-e13b2a"><text x="356" y="1389.7">受害人故意</text></g>
<g id="n-e13c"><text x="256" y="1408.3">占有或者使用易燃、易爆、剧毒或高放射性等高度危险物品致害</text></g>
<g id="n-e13c1"><text x="408.3" y="1400">S</text></g>
<g id="n-e13c1a"><text x="437.3" y="1400">使用人</text></g>
<g id="n-e13c2"><text x="408.3" y="1414.3">ag</text></g>
<g id="n-e13c2a"><text x="439.3" y="1410">fC</text></g>
<g id="n-e13c2b"><text x="439.3" y="1419">fD</text></g>
<g id="n-e13d"><text x="256" y="1437.3">从事高空、高压、地下挖掘活动或者使用高速轨道运输工具</text></g>
<g id="n-e13d1"><text x="408.3" y="1428">S</text></g>
<g id="n-e13d1a"><text x="437.3" y="1428">活动或工具经营者</text></g>
<g id="n-e13d2"><text x="408.3" y="1442.7">ag</text></g>
<g id="n-e13d2a"><text x="439.3" y="1438">fC</text></g>
<g id="n-e13d2b"><text x="439.3" y="1447">fD</text></g>
<g id="n-e13e"><text x="256" y="1456.7">遗失、抛弃高度危险物致人损害</text></g>
<g id="n-e13e1"><text x="350" y="1456.7">S</text></g>
<g id="n-e13e1a"><text x="380" y="1456.7">所有人</text></g>
<g id="n-e14"><text x="199" y="1558.7">建筑物和物件损害的侵权责任</text></g>
<g id="n-e14a"><text x="289" y="1495">悬挂物、构筑物发生脱落、坠落致害</text></g>
<g id="n-e14a1"><text x="394" y="1467.7">S</text></g>
<g id="n-e14a1a"><text x="422.7" y="1467.7">所有人、管理人或者使用人</text></g>
<g id="n-e14a2"><text x="395" y="1478">bD</text></g>
<g id="n-e14a2a"><text x="426" y="1478">过错推定原则</text></g>
<g id="n-e14a3"><text x="393.3" y="1505">高空抛物责任</text></g>
<g id="n-e14a3a"><text x="449" y="1488.7">难以确认具体侵权人的，除能够证明自己不是侵权人的外，由可能加害的建筑物<tspan x="449" y="1495.3">使用人给予补偿</tspan></text></g>
<g id="n-e14a3b"><text x="449" y="1505.3">物业应采取必要安全保障措施防止此类情况发生，未采取必要措施的，依法承担<tspan x="449" y="1512">未履行安全保障义务的责任</tspan></text></g>
<g id="n-e14a3c"><text x="449" y="1522.3">公安机关应当依法及时调查，查清责任人</text></g>
<g id="n-e14b"><text x="289" y="1543.7">建筑物或其它设施倒塌</text></g>
<g id="n-e14b1"><text x="364.3" y="1543.7">S</text></g>
<g id="n-e14b1a"><text x="394.3" y="1533">开发商和施工单位承担连带责任</text></g>
<g id="n-e14b1b"><text x="394.3" y="1543.3">建设单位和施工单位能够证明不存在质量缺陷的除外</text></g>
<g id="n-e14b1c"><text x="394.3" y="1554">所留有其它责任人的，可以追偿</text></g>
<g id="n-e14c"><text x="289" y="1579">地面施工与地下设施致害</text></g>
<g id="n-e14c1"><text x="371.7" y="1568.7">bD</text></g>
<g id="n-e14c1a"><text x="403.3" y="1563.7">al</text></g>
<g id="n-e14c1b"><text x="401.7" y="1573.7">责任主体应证明已设置明显标志和采取安全措施或尽到管理职责</text></g>
<g id="n-e14c2"><text x="371.7" y="1589">S</text></g>
<g id="n-e14c2a"><text x="399" y="1584">地面施工致害的，施工人承担</text></g>
<g id="n-e14c2b"><text x="399" y="1594.3">地下设施致害的，管理人承担</text></g>
<g id="n-e14d"><text x="289" y="1604.7">堆放物倒塌致害</text></g>
<g id="n-e14d1"><text x="350.7" y="1604.7">al</text></g>
<g id="n-e14e"><text x="289" y="1619">林木折断、倾倒或者果实坠落等致害责任</text></g>
<g id="n-e14e1"><text x="402.7" y="1614">al</text></g>
<g id="n-e14e2"><text x="402.7" y="1624">林木的所有人或管理人</text></g>
<g id="n-e14f"><text x="289" y="1642">公路上堆放、倾倒、遗撒物品致害</text></g>
<g id="n-e14f1"><text x="388.3" y="1633.3">bE</text></g>
<g id="n-e14f2"><text x="388.3" y="1643">公共道路管理人不能证明已经尽到清理、防护、警示等义务的应当承担相应的责<tspan x="388.3" y="1650">任</tspan></text></g>
</svg>
